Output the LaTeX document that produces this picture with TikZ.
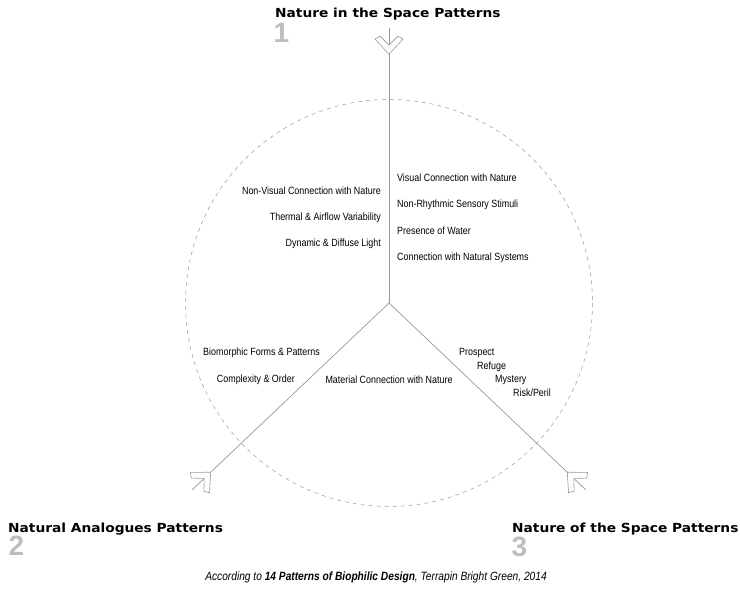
\documentclass[tikz,border=0pt]{standalone}
\usepackage{fontspec}
\setmainfont{Liberation Sans}[FakeStretch=0.85]
\newfontfamily\headfont{DejaVu Sans}[FakeStretch=1.1]
\newfontfamily\numfont{Liberation Sans}
\definecolor{axisgray}{HTML}{999999}
\definecolor{numgray}{HTML}{BDBDBD}

\tikzset{
	pattern/.style={font=\fontsize{10.5}{12}\selectfont, inner sep=0pt},
	heading/.style={font=\headfont\bfseries\fontsize{12.5}{14}\selectfont, inner sep=0pt, anchor=base west},
	number/.style={font=\numfont\bfseries\fontsize{28}{30}\selectfont, text=numgray, inner sep=0pt},
	axis/.style={draw=axisgray, line width=0.7pt},
	fletch/.pic={
		\draw[axisgray, fill=white, line width=0.6pt] (0,0) -- (15,14) -- (18,9) -- (9,0) -- (18,-9) -- (15,-14) -- cycle;
	}
}

\begin{document}
\begin{tikzpicture}[x=1pt, y=-1pt]
		\useasboundingbox (0,0) rectangle (740,592);

		\coordinate (hub) at (389,303);
		\coordinate (tail1) at (389,28);
		\coordinate (tail2) at (192,490);
		\coordinate (tail3) at (586,490);

		\draw[axisgray, dash pattern=on 4pt off 4pt, line width=0.5pt] (hub) circle[radius=203.5];

		\foreach \i in {1,2,3}
			\draw[axis] (hub) -- (tail\i) pic[pos=.905, sloped, allow upside down]{fletch};

		\node[heading] (space1) at (275,17) {Nature in the Space Patterns};
		\node[number] (num1) at (281.5,32.5) {1};
		\node[heading] (space2) at (8,532) {Natural Analogues Patterns};
		\node[number] (num2) at (16.5,545.5) {2};
		\node[heading] (space3) at (512,532) {Nature of the Space Patterns};
		\node[number] (num3) at (519.5,546.5) {3};

		\node[pattern, anchor=west] (visual) at (397,178) {Visual Connection with Nature};
		\node[pattern, anchor=west] (stimuli) at (397,205) {Non-Rhythmic Sensory Stimuli};
		\node[pattern, anchor=west] (water) at (397,231) {Presence of Water};
		\node[pattern, anchor=west] (systems) at (397,258) {Connection with Natural Systems};

		\node[pattern, anchor=east] (nonvisual) at (381,191) {Non-Visual Connection with Nature};
		\node[pattern, anchor=east] (thermal) at (381,218) {Thermal \& Airflow Variability};
		\node[pattern, anchor=east] (light) at (381,244) {Dynamic \& Diffuse Light};

		\node[pattern, anchor=east] (biomorphic) at (320,353) {Biomorphic Forms \& Patterns};
		\node[pattern, anchor=east] (complexity) at (295,380) {Complexity \& Order};
		\node[pattern] (material) at (389,380) {Material Connection with Nature};

		\node[pattern, anchor=west] (prospect) at (459,353) {Prospect};
		\node[pattern, anchor=west] (refuge) at (477,367) {Refuge};
		\node[pattern, anchor=west] (mystery) at (495,380) {Mystery};
		\node[pattern, anchor=west] (risk) at (513,393) {Risk/Peril};

		\node[pattern, font=\itshape\fontsize{12}{14}\selectfont] (source) at (376,577) {According to \textbf{14 Patterns of Biophilic Design}, Terrapin Bright Green, 2014};
	\end{tikzpicture}
\end{document}
